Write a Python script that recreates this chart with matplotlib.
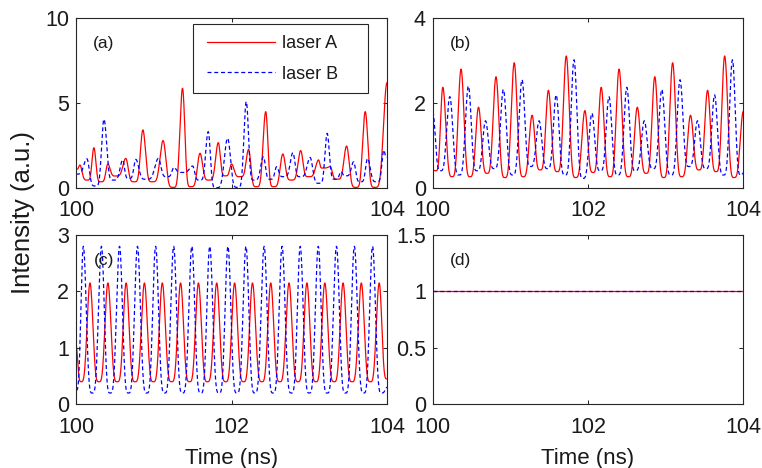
import numpy as np
import matplotlib
matplotlib.use("Agg")
import matplotlib.pyplot as plt
from matplotlib import font_manager
from matplotlib.patches import Rectangle

# ---- data: turning points (time in ns, intensity in a.u.) of each trace ----
# (a) chaotic regime
a_A_t = [100.00, 100.05, 100.145, 100.23, 100.32, 100.41, 100.51, 100.64, 100.75, 100.86,
         100.98, 101.12, 101.25, 101.37, 101.475, 101.595, 101.71, 101.83, 101.92, 102.00,
         102.11, 102.22, 102.32, 102.44, 102.54, 102.66, 102.77, 102.89, 102.99, 103.12,
         103.17, 103.27, 103.36, 103.48, 103.60, 103.72, 103.84, 104.00]
a_A_v = [1.09, 1.34, 0.45, 2.36, 0.35, 1.40, 0.69, 1.73, 0.35, 3.41,
         0.35, 2.78, 0.02, 5.87, 0.06, 2.03, 0.45, 2.66, 0.70, 1.40,
         0.65, 2.26, 0.06, 4.49, 0.06, 1.99, 0.45, 2.19, 0.65, 1.64,
         1.16, 1.24, 0.50, 2.46, 0.02, 4.49, 0.02, 6.20]
a_B_t = [100.00, 100.14, 100.25, 100.36, 100.48, 100.60, 100.68, 100.77, 100.90, 101.06,
         101.17, 101.26, 101.36, 101.50, 101.59, 101.70, 101.80, 101.95, 102.08, 102.19,
         102.29, 102.41, 102.50, 102.58, 102.67, 102.79, 102.88, 103.01, 103.13, 103.23,
         103.33, 103.41, 103.47, 103.57, 103.66, 103.75, 103.87, 103.96, 104.00]
a_B_v = [0.80, 1.71, 0.10, 4.04, 0.45, 1.64, 0.55, 1.67, 0.50, 1.73,
         0.65, 1.20, 0.90, 1.28, 0.45, 3.31, 0.00, 2.92, 0.02, 5.08,
         0.45, 1.83, 0.50, 1.24, 0.65, 2.07, 0.65, 1.79, 0.26, 3.21,
         0.50, 0.95, 0.70, 1.53, 0.35, 1.73, 0.35, 2.22, 1.80]

# (b) quasi-periodic regime
b_A_t = [100.00, 100.04, 100.13, 100.25, 100.365, 100.48, 100.59, 100.70, 100.815, 100.93,
         101.05, 101.165, 101.28, 101.385, 101.49, 101.605, 101.72, 101.84, 101.96, 102.065,
         102.17, 102.285, 102.40, 102.52, 102.635, 102.75, 102.86, 102.975, 103.09, 103.205,
         103.32, 103.43, 103.54, 103.65, 103.76, 103.88, 104.00]
b_A_v = [0.42, 0.40, 2.37, 0.26, 2.80, 0.26, 1.90, 0.34, 2.62, 0.24,
         2.95, 0.26, 1.71, 0.42, 2.30, 0.38, 3.11, 0.24, 1.82, 0.36,
         2.37, 0.26, 2.80, 0.26, 1.90, 0.34, 2.62, 0.24, 2.95, 0.26,
         1.71, 0.42, 2.30, 0.38, 3.11, 0.24, 1.80]
b_B_t = [100.00, 100.10, 100.22, 100.34, 100.46, 100.57, 100.68, 100.795, 100.91, 101.03,
         101.15, 101.26, 101.37, 101.48, 101.59, 101.705, 101.82, 101.935, 102.05, 102.16,
         102.27, 102.385, 102.50, 102.61, 102.725, 102.84, 102.95, 103.07, 103.185, 103.30,
         103.41, 103.52, 103.63, 103.745, 103.86, 103.97, 104.00]
b_B_v = [1.80, 0.40, 2.15, 0.30, 2.40, 0.40, 1.58, 0.45, 2.32, 0.30,
         2.55, 0.50, 1.58, 0.45, 2.19, 0.30, 3.02, 0.22, 1.76, 0.40,
         2.15, 0.30, 2.37, 0.40, 1.58, 0.45, 2.32, 0.30, 2.55, 0.50,
         1.58, 0.45, 2.19, 0.30, 3.02, 0.30, 0.35]

# (c) periodic regime
c_A_t = [100.00, 100.065, 100.18, 100.295, 100.41, 100.53, 100.645, 100.76, 100.88, 100.995,
         101.11, 101.23, 101.345, 101.46, 101.575, 101.69, 101.81, 101.925, 102.04, 102.155,
         102.27, 102.39, 102.505, 102.62, 102.74, 102.855, 102.97, 103.085, 103.20, 103.32,
         103.435, 103.55, 103.67, 103.785, 103.90, 104.00]
c_A_v = [1.05, 0.40, 2.15, 0.40, 2.15, 0.40, 2.15, 0.40, 2.15, 0.40,
         2.15, 0.40, 2.15, 0.40, 2.15, 0.40, 2.15, 0.40, 2.15, 0.40,
         2.15, 0.40, 2.15, 0.40, 2.15, 0.40, 2.15, 0.40, 2.15, 0.40,
         2.15, 0.40, 2.15, 0.40, 2.15, 0.45]
c_B_t = [100.00, 100.094, 100.21, 100.327, 100.44, 100.56, 100.675, 100.79, 100.91, 101.024,
         101.14, 101.256, 101.37, 101.49, 101.605, 101.72, 101.84, 101.954, 102.07, 102.186,
         102.30, 102.42, 102.535, 102.65, 102.77, 102.884, 103.00, 103.116, 103.23, 103.35,
         103.465, 103.58, 103.70, 103.814, 103.93, 104.00]
c_B_v = [0.25, 2.80, 0.20, 2.80, 0.20, 2.80, 0.20, 2.80, 0.20, 2.80,
         0.20, 2.80, 0.20, 2.80, 0.20, 2.80, 0.20, 2.80, 0.20, 2.80,
         0.20, 2.80, 0.20, 2.80, 0.20, 2.80, 0.20, 2.80, 0.20, 2.80,
         0.20, 2.80, 0.20, 2.80, 0.20, 0.30]

# (d) steady state
d_A_t = [100.0, 104.0]
d_A_v = [1.0, 1.0]
d_B_t = [100.0, 104.0]
d_B_v = [1.0, 1.0]

x_ticks = [100, 102, 104]
x_ticklabels = ["100", "102", "104"]
y_ticks = {"a": [0, 5, 10], "b": [0, 2, 4], "c": [0, 1, 2, 3], "d": [0, 0.5, 1, 1.5]}
y_ticklabels = {"a": ["0", "5", "10"], "b": ["0", "2", "4"],
                "c": ["0", "1", "2", "3"], "d": ["0", "0.5", "1", "1.5"]}
y_limits = {"a": (0, 10), "b": (0, 4), "c": (0, 3), "d": (0, 1.5)}
series_names = ["laser A", "laser B"]

# ---- fonts ----
available = {f.name for f in font_manager.fontManager.ttflist}
family = "Liberation Sans" if "Liberation Sans" in available else "DejaVu Sans"
plt.rcParams["font.family"] = [family, "DejaVu Sans"]
tick_size = 15.5


def pulse_trace(knot_t, knot_v, sharp, n=60):
    """Join successive turning points with spike-like segments (narrow tops, broad floors)."""
    ts, vs = [], []
    for i in range(len(knot_t) - 1):
        t0, t1 = knot_t[i], knot_t[i + 1]
        v0, v1 = knot_v[i], knot_v[i + 1]
        u = np.linspace(0.0, 1.0, n, endpoint=False)
        if v1 >= v0:
            f = ((1 - np.cos(np.pi * u)) / 2) ** sharp
            v = v0 + (v1 - v0) * f
        else:
            g = ((1 + np.cos(np.pi * u)) / 2) ** sharp
            v = v1 + (v0 - v1) * g
        ts.append(t0 + (t1 - t0) * u)
        vs.append(v)
    ts.append([knot_t[-1]])
    vs.append([knot_v[-1]])
    return np.concatenate(ts), np.concatenate(vs)


W, H = 762, 468
fig = plt.figure(figsize=(W / 100, H / 100), dpi=100)

frame_col = "#262626"
text_col = "#1a1a1a"
panels = {
    "a": (76, 18.3, 387, 187.7, a_A_t, a_A_v, a_B_t, a_B_v, 2.6),
    "b": (432.7, 18.3, 743.3, 187.7, b_A_t, b_A_v, b_B_t, b_B_v, 2.0),
    "c": (76, 235, 387, 404.3, c_A_t, c_A_v, c_B_t, c_B_v, 2.0),
    "d": (432.7, 235, 743.3, 404.3, d_A_t, d_A_v, d_B_t, d_B_v, 2.0),
}

axes = {}
for key, (x0, y0, x1, y1, At, Av, Bt, Bv, sharp) in panels.items():
    ax = fig.add_axes([x0 / W, 1 - y1 / H, (x1 - x0) / W, (y1 - y0) / H])
    axes[key] = ax
    tA, vA = pulse_trace(At, Av, sharp)
    tB, vB = pulse_trace(Bt, Bv, sharp)
    ax.plot(tA, vA, color="#ff0000", lw=0.9, label=series_names[0])
    ax.plot(tB, vB, color="#0000ff", lw=0.9, ls=(0, (3.2, 2.2)), label=series_names[1])
    ax.set_xlim(100, 104)
    ax.set_ylim(*y_limits[key])
    ax.set_xticks(x_ticks)
    ax.set_xticklabels(x_ticklabels, size=tick_size)
    ax.set_yticks(y_ticks[key])
    ax.set_yticklabels(y_ticklabels[key], size=tick_size)
    ax.tick_params(direction="in", length=3, width=0.75, color=frame_col,
                   top=True, right=True, labelcolor=text_col)
    ax.tick_params(axis="x", pad=9)
    ax.tick_params(axis="y", pad=5)
    for sp in ax.spines.values():
        sp.set_color(frame_col)
        sp.set_linewidth(0.8)
    ax.text(0.09, 0.85, f"({key})", transform=ax.transAxes, fontsize=12.5,
            ha="center", va="center", color=text_col)

# legend of panel (a): framed box with generous padding
ax_a = axes["a"]
ax_a.add_patch(Rectangle((0.376, 0.559), 0.563, 0.407, transform=ax_a.transAxes,
                         facecolor="white", edgecolor=frame_col, lw=0.8, zorder=5))
leg = ax_a.legend(loc="upper left", bbox_to_anchor=(0.421, 0.9), borderaxespad=0,
                  borderpad=0, fontsize=13, handlelength=3.75, handletextpad=0.4,
                  labelspacing=0.75, frameon=False)
leg.set_zorder(6)
for t in leg.get_texts():
    t.set_color(text_col)

for key in ("c", "d"):
    axes[key].set_xlabel("Time (ns)", fontsize=16, labelpad=7, color=text_col)

fig.text(0.030, 0.547, "Intensity (a.u.)", rotation=90, fontsize=18.5,
         ha="center", va="center", color=text_col)

fig.savefig("out.png", dpi=100)
